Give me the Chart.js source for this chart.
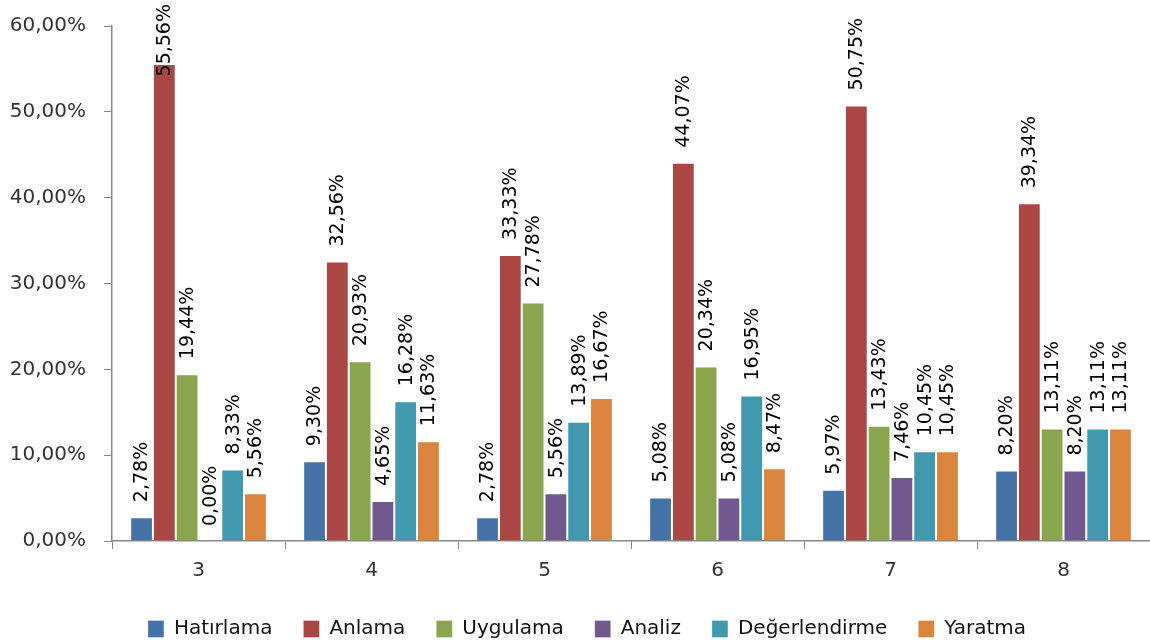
<!DOCTYPE html>
<html>
<head>
<meta charset="utf-8">
<script src="https://cdn.jsdelivr.net/npm/chart.js@4"></script>
<style>
  html, body { margin: 0; padding: 0; background: #fff; }
  #wrap { width: 1150px; height: 644px; }
</style>
</head>
<body>
<div id="wrap"><canvas id="levelChart" width="1150" height="644"></canvas></div>
<script>
const grades = ['3', '4', '5', '6', '7', '8'];

const hatirlama = [2.78, 9.30, 2.78, 5.08, 5.97, 8.20];
const anlama = [55.56, 32.56, 33.33, 44.07, 50.75, 39.34];
const uygulama = [19.44, 20.93, 27.78, 20.34, 13.43, 13.11];
const analiz = [0.00, 4.65, 5.56, 5.08, 7.46, 8.20];
const degerlendirme = [8.33, 16.28, 13.89, 16.95, 10.45, 13.11];
const yaratma = [5.56, 11.63, 16.67, 8.47, 10.45, 13.11];

const yTicks = [0, 10, 20, 30, 40, 50, 60];

const fmt = v => v.toFixed(2).replace('.', ',') + '%';

// rotated value labels just above each bar
const barLabels = {
  id: 'barLabels',
  afterDatasetsDraw(chart) {
    const ctx = chart.ctx;
    ctx.save();
    ctx.font = '19px "DejaVu Sans"';
    ctx.fillStyle = '#000';
    ctx.textAlign = 'left';
    ctx.textBaseline = 'middle';
    chart.data.datasets.forEach((ds, i) => {
      chart.getDatasetMeta(i).data.forEach((bar, j) => {
        const text = fmt(ds.data[j]);
        const w = ctx.measureText(text).width;
        let start = bar.y - 15;
        if (start - w < 4) start = 4 + w;
        ctx.save();
        ctx.translate(bar.x + 1, start);
        ctx.rotate(-Math.PI / 2);
        ctx.fillText(text, 0, 0);
        ctx.restore();
      });
    });
    ctx.restore();
  }
};

// nudge the legend a little to the right
const legendShift = {
  id: 'legendShift',
  afterLayout(chart) {
    chart.legend.left += 12;
    chart.legend.right += 12;
  }
};

const edge = 'rgba(255,255,255,0.3)';

const ctx = document.getElementById('levelChart').getContext('2d');

new Chart(ctx, {
  type: 'bar',
  data: {
    labels: grades,
    datasets: [
      { label: 'Hatırlama', data: hatirlama, backgroundColor: '#4572A7' },
      { label: 'Anlama', data: anlama, backgroundColor: '#AA4643' },
      { label: 'Uygulama', data: uygulama, backgroundColor: '#89A54E' },
      { label: 'Analiz', data: analiz, backgroundColor: '#71588F' },
      { label: 'Değerlendirme', data: degerlendirme, backgroundColor: '#4198AF' },
      { label: 'Yaratma', data: yaratma, backgroundColor: '#DB843D' }
    ]
  },
  options: {
    responsive: false,
    animation: false,
    datasets: {
      bar: {
        categoryPercentage: 0.79,
        barPercentage: 1.0,
        borderWidth: 1,
        borderColor: edge
      }
    },
    layout: {
      padding: { top: 26, right: 0, left: 0, bottom: -5 }
    },
    scales: {
      x: {
        grid: {
          offset: true,
          drawOnChartArea: false,
          color: '#888',
          tickLength: 8
        },
        border: { color: '#888', width: 1.5 },
        ticks: {
          color: '#333',
          padding: 10,
          font: { family: 'DejaVu Sans', size: 20 }
        },
        afterFit(scale) { scale.height = 47; }
      },
      y: {
        min: 0,
        max: 60,
        afterBuildTicks(scale) {
          scale.ticks = yTicks.map(v => ({ value: v }));
        },
        grid: {
          drawOnChartArea: false,
          color: '#888',
          tickLength: 8
        },
        border: { color: '#888', width: 1.5 },
        ticks: {
          color: '#333',
          padding: 18,
          font: { family: 'DejaVu Sans', size: 20 },
          callback: v => fmt(v)
        },
        afterFit(scale) {
          scale.width = 112;
          scale.paddingTop = 0;
          scale.paddingBottom = 0;
        }
      }
    },
    plugins: {
      legend: {
        position: 'bottom',
        labels: {
          color: '#111',
          boxWidth: 16,
          boxHeight: 17,
          padding: 31,
          font: { family: 'DejaVu Sans', size: 20 }
        }
      },
      tooltip: { enabled: false }
    }
  },
  plugins: [barLabels, legendShift]
});
</script>
</body>
</html>
